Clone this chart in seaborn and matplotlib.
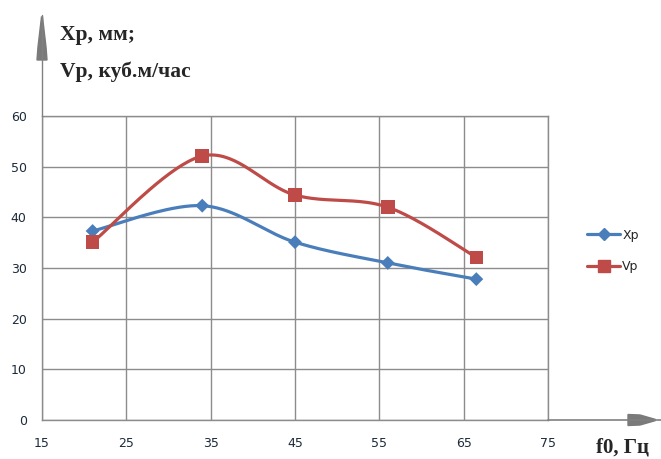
import numpy as np
import pandas as pd
import seaborn as sns
import matplotlib
matplotlib.use("Agg")
import matplotlib.pyplot as plt
from matplotlib.lines import Line2D
from matplotlib.patches import Polygon

# данные
f0 = [21, 34, 45, 56, 66.5]
xp = [37.3, 42.3, 35.1, 31.0, 27.8]
vp = [35.1, 52.1, 44.4, 42.0, 32.1]
x_ticks = [15, 25, 35, 45, 55, 65, 75]
y_ticks = [0, 10, 20, 30, 40, 50, 60]

blue = '#4a7ebb'
red = '#be4b48'
grid_col = '#8c8c8c'


def smooth(x, y, n=40):
    # сглаживание как в Excel (кривые Безье по Катмуллу-Рому)
    x = np.asarray(x, float)
    y = np.asarray(y, float)
    px = np.r_[x[0], x, x[-1]]
    py = np.r_[y[0], y, y[-1]]
    t = np.linspace(0, 1, n)[:, None]
    xs, ys = [], []
    for i in range(1, len(px) - 2):
        p0 = np.array([px[i], py[i]])
        p3 = np.array([px[i + 1], py[i + 1]])
        p1 = p0 + (p3 - np.array([px[i - 1], py[i - 1]])) / 6
        p2 = p3 - (np.array([px[i + 2], py[i + 2]]) - p0) / 6
        b = ((1 - t) ** 3) * p0 + 3 * ((1 - t) ** 2) * t * p1 + 3 * (1 - t) * t ** 2 * p2 + t ** 3 * p3
        xs.append(b[:, 0])
        ys.append(b[:, 1])
    return np.concatenate(xs), np.concatenate(ys)


sns.set_theme(style='white')
plt.rcParams['font.family'] = ['DejaVu Sans']

W, H = 661, 459
fig = plt.figure(figsize=(W / 100, H / 100), dpi=100)
ax = fig.add_axes([42 / W, 1 - 420 / H, (548 - 42) / W, (420 - 116) / H])


def px(x, y):
    return (x / W, 1 - y / H)


for name, vals, col in [('Xp', xp, blue), ('Vp', vp, red)]:
    sx, sy = smooth(f0, vals)
    curve = pd.DataFrame({'f0': sx, 'val': sy})
    sns.lineplot(data=curve, x='f0', y='val', ax=ax, color=col, lw=2.3, sort=False, zorder=3)

pts = pd.DataFrame({'f0': f0 * 2, 'val': xp + vp, 'ser': ['Xp'] * len(f0) + ['Vp'] * len(f0)})
sns.scatterplot(data=pts, x='f0', y='val', hue='ser', style='ser',
                palette={'Xp': blue, 'Vp': red}, markers={'Xp': 'D', 'Vp': 's'},
                size='ser', sizes={'Xp': 50, 'Vp': 95}, edgecolor='none',
                ax=ax, legend=False, zorder=4)

ax.set_xlim(15, 75)
ax.set_ylim(0, 60)
ax.set_xticks(x_ticks)
ax.set_yticks(y_ticks)
ax.set_xlabel('')
ax.set_ylabel('')
ax.grid(True, color=grid_col, lw=1.0)
for s in ax.spines.values():
    s.set_color(grid_col)
    s.set_linewidth(1.0)
ax.tick_params(axis='both', length=0, labelsize=9, colors='#1c2a3a')
ax.tick_params(axis='x', pad=12)
ax.tick_params(axis='y', pad=11)

# стрелки осей
fig.add_artist(Line2D([42 / W, 42 / W], [1 - 116 / H, 1 - 15 / H], color='#808080', lw=1.0, transform=fig.transFigure))
fig.add_artist(Polygon([px(37, 60), px(47, 60), px(46, 47), px(42.5, 17), px(41.5, 17), px(38, 47)],
                       closed=True, color='#7a7a7a', transform=fig.transFigure))
fig.add_artist(Line2D([548 / W, 661 / W], [1 - 420 / H, 1 - 420 / H], color='#808080', lw=1.2, transform=fig.transFigure))
fig.add_artist(Polygon([px(628, 414.5), px(640, 415), px(655, 419.3), px(655, 420.7), px(640, 425), px(628, 425.5)],
                       closed=True, color='#7a7a7a', transform=fig.transFigure))

# подписи осей
fig.text(60 / W, 1 - 35 / H, 'Xp, мм;', family='Liberation Serif', weight='bold', size=15.5, va='center', ha='left')
fig.text(60 / W, 1 - 72 / H, 'Vp, куб.м/час', family='Liberation Serif', weight='bold', size=15.5, va='center', ha='left')
fig.text(596 / W, 1 - 448 / H, 'f0, Гц', family='Liberation Serif', weight='bold', size=15, va='center', ha='left')

handles = [Line2D([], [], color=blue, lw=2.3, marker='D', markersize=6),
           Line2D([], [], color=red, lw=2.3, marker='s', markersize=8)]
fig.legend(handles, ['Xp', 'Vp'], loc='center left', bbox_to_anchor=(576 / W, 1 - 251 / H),
           frameon=False, fontsize=9, handlelength=2.6, handletextpad=0.2, labelspacing=1.5)

fig.savefig('out.png', dpi=100)
